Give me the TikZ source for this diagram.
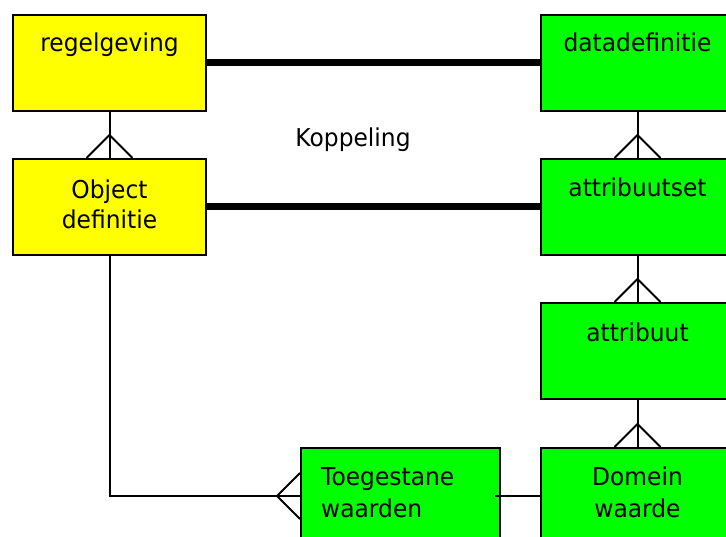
\documentclass[tikz,border=0pt]{standalone}
\usepackage{fontspec}
\setmainfont{DejaVu Sans}[FakeStretch=0.95]
\usetikzlibrary{calc}
\definecolor{boxyellow}{RGB}{255,255,0}
\definecolor{boxgreen}{RGB}{0,255,0}
\tikzset{
  box/.style={draw=black, line width=2pt, minimum width=193pt, minimum height=96pt, inner sep=0pt, anchor=north west},
  ybox/.style={box, fill=boxyellow},
  gbox/.style={box, fill=boxgreen},
  lbl/.style={font=\fontsize{24.6pt}{29pt}\selectfont, inner sep=0pt, anchor=base},
  lbll/.style={lbl, anchor=base west},
  thick link/.style={line width=7pt},
  thin link/.style={line width=2pt},
}
\begin{document}
\begin{tikzpicture}[x=1pt,y=-1pt]
\useasboundingbox (0,0) rectangle (726,537);
\clip (0,0) rectangle (726,537);
\fill[white] (0,0) rectangle (726,537);
% boxes
\node[ybox] (reg) at (12,14) {};
\node[ybox] (obj) at (12,158) {};
\node[gbox] (dd) at (540,14) {};
\node[gbox] (ats) at (540,158) {};
\node[gbox] (att) at (540,302) {};
\node[gbox] (dom) at (540,447) {};
\node[gbox, minimum width=199pt] (toe) at (300,447) {};
% labels
\node[lbl] (regT) at ($(reg.north)+(0,38)$) {regelgeving};
\node[lbl] (objT1) at ($(obj.north)+(0,41)$) {Object};
\node[lbl] (objT2) at ($(obj.north)+(0,71)$) {definitie};
\node[lbl] (ddT) at ($(dd.north)+(0,38)$) {datadefinitie};
\node[lbl] (atsT) at ($(ats.north)+(0,39)$) {attribuutset};
\node[lbl] (attT) at ($(att.north)+(0,40)$) {attribuut};
\node[lbl] (domT1) at ($(dom.north)+(0,38)$) {Domein};
\node[lbl] (domT2) at ($(dom.north)+(0,70)$) {waarde};
\node[lbll] (toeT1) at ($(toe.north west)+(21,38)$) {Toegestane};
\node[lbll] (toeT2) at ($(toe.north west)+(21,70)$) {waarden};
\node[lbl] (kop) at (353,147) {Koppeling};
% thick links
\draw[thick link] (reg.east) -- (dd.west);
\draw[thick link] (obj.east) -- (ats.west);
% crow's feet vertical
\foreach \a/\b in {reg/obj, dd/ats, ats/att, att/dom}{
  \draw[thin link] (\a.south) -- (\b.north);
  \draw[thin link] ($(\b.north)+(-23,0)$) -- ($(\b.north)+(0,-23)$) -- ($(\b.north)+(23,0)$);
}
% object to toegestane
\draw[thin link] (obj.south) |- (toe.west);
\draw[thin link] ($(toe.west)+(0,-23)$) -- ($(toe.west)+(-23,0)$) -- ($(toe.west)+(0,23)$);
% domein to toegestane
\draw[thin link] ($(toe.east)+(-6,0)$) -- (dom.west);
\end{tikzpicture}
\end{document}
